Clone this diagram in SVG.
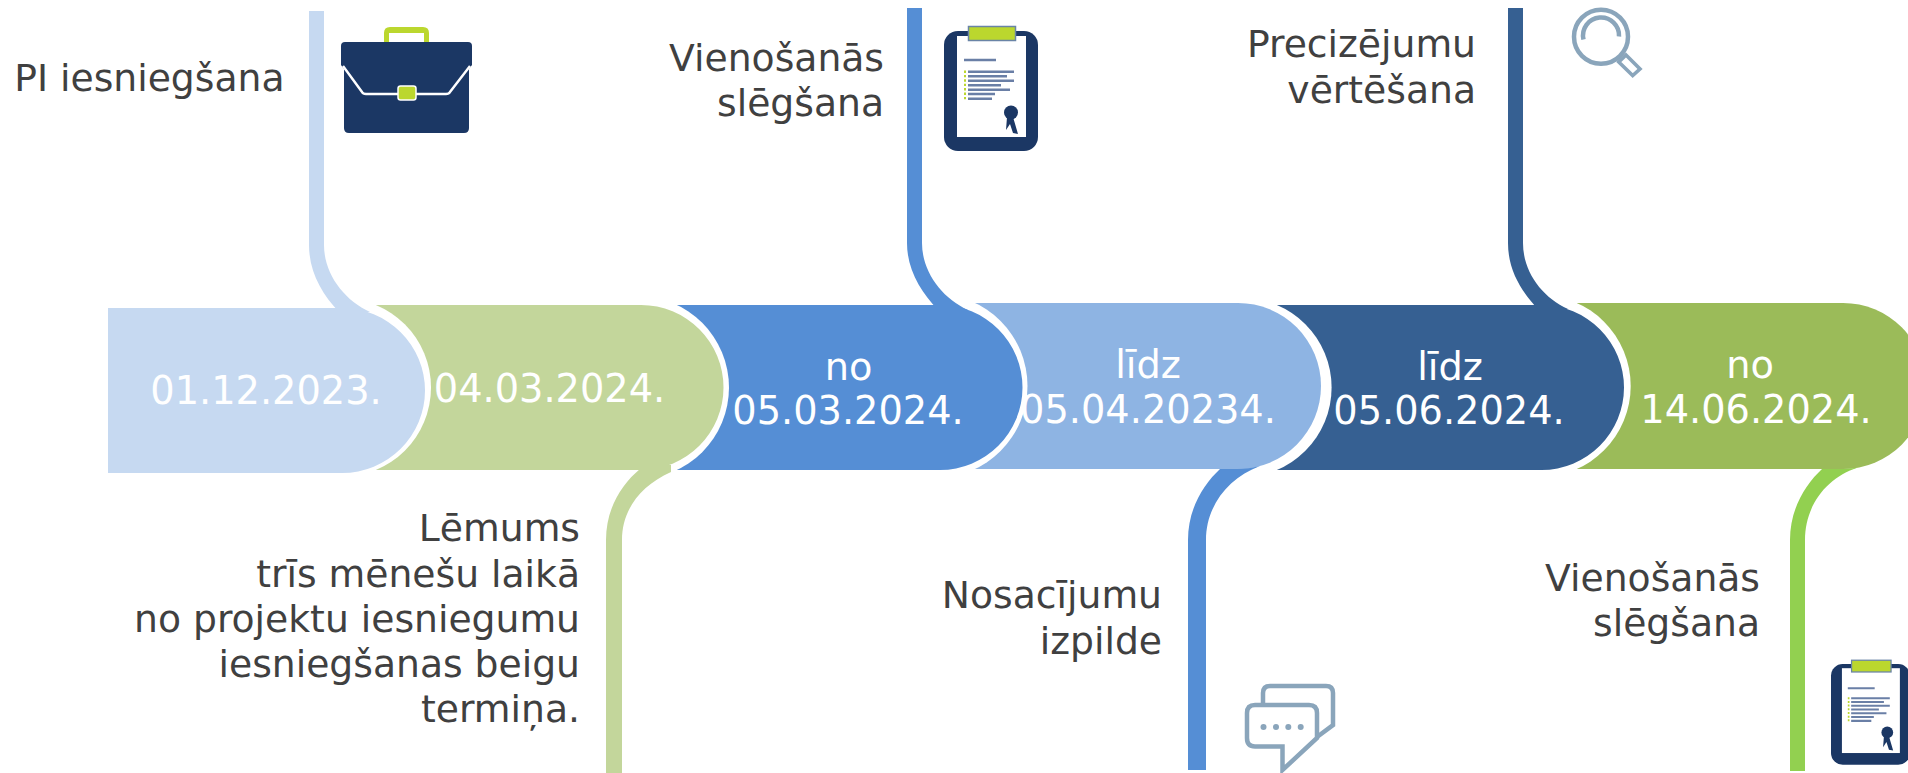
<svg xmlns="http://www.w3.org/2000/svg" width="1908" height="773" viewBox="0 0 1908 773">
<style>
text{font-family:"DejaVu Sans","Liberation Sans",sans-serif}
.d{fill:#fff;text-anchor:middle;font-size:38.3px}
.l{fill:#404040;text-anchor:end;font-size:37.7px}
.gap{fill:#fff}
.navy{fill:#1B3764}
.lime{fill:#BBD72E}
.ln{stroke:#6A7FA6;stroke-width:2.4;fill:none}
.bu{stroke:#BBD72E;stroke-width:2;stroke-dasharray:2.4 2;fill:none}
.ic{fill:none;stroke:#8AA5BB;stroke-width:4.5}
</style>
<defs>
<g id="clipboard">
<rect class="navy" x="944" y="31" width="94" height="120" rx="14"/>
<rect x="957" y="36" width="69" height="101" fill="#fff"/>
<rect class="lime" x="968.5" y="26.5" width="47" height="14" stroke="#6A84A6" stroke-width="1.5"/>
<path class="ln" d="M964,60H996M968,71.7H1014M968,76.3H1007M968,80.7H1014M968,85.3H1001M968,89.7H1010M968,94H995M968,98.7H992"/>
<path class="bu" d="M965,70.5V100"/>
<circle class="navy" cx="1011" cy="112.5" r="7"/>
<path class="navy" d="M1007,117L1006,130L1010,124L1013,133L1018,134L1013,117Z"/>
</g>
</defs>

<g id="node-6">
<path fill="#9BBB59" d="M1577,303H1843A83,83 0 0 1 1843,469H1577Z"/>
<text class="d" x="1750" y="378">no</text>
<text class="d" x="1756" y="423">14.06.2024.</text>
</g>
<g id="node-5">
<circle class="gap" cx="1539.7" cy="386" r="91"/>
<path fill="#366092" d="M1277,305H1541.5A82.5,82.5 0 0 1 1541.5,470H1277Z"/>
<text class="d" x="1450" y="380">līdz</text>
<text class="d" x="1449" y="424">05.06.2024.</text>
</g>
<g id="node-4">
<circle class="gap" cx="1242" cy="387.5" r="89.6"/>
<path fill="#8EB4E3" d="M975,303H1238A83,83 0 0 1 1238,469H975Z"/>
<text class="d" x="1148" y="378">līdz</text>
<text class="d" x="1148" y="423">05.04.20234.</text>
</g>
<g id="node-3">
<circle class="gap" cx="935.6" cy="386" r="91.9"/>
<path fill="#558ED5" d="M677,305H940A82.5,82.5 0 0 1 940,470H677Z"/>
<text class="d" x="848.5" y="380">no</text>
<text class="d" x="848" y="424">05.03.2024.</text>
</g>
<g id="node-2">
<circle class="gap" cx="637.6" cy="387.5" r="91.4"/>
<path fill="#C3D69B" d="M376,305H641A82.5,82.5 0 0 1 641,470H376Z"/>
<text class="d" x="549.5" y="402">04.03.2024.</text>
</g>
<g id="node-1">
<circle class="gap" cx="341.6" cy="387.5" r="89.4"/>
<path fill="#C6D9F1" d="M108,308H342A83,82.5 0 0 1 342,473H108Z"/>
<text class="d" x="266" y="404">01.12.2023.</text>
</g>

<g id="connectors">
<path fill="#C6D9F1" d="M309,11H324V245C324,274 344,300 370,312L339,312C322,294 309,272 309,245Z"/>
<path fill="#558ED5" d="M907,8H922V243C922,272 942,298 968,310L938,310C921,292 907,270 907,243Z"/>
<path fill="#366092" d="M1508,8H1523V243C1523,272 1542,297 1568,309L1538,309C1521,291 1508,270 1508,243Z"/>
<path fill="#C3D69B" d="M606,773V540C606,508 622,484 640,469L640,465H671V472C640,486 622,510 622,540V773Z"/>
<path fill="#558ED5" d="M1188,770V540C1188,508 1204,484 1220,469H1238A83,83 0 0 0 1260,466C1228,478 1206,506 1206,540V770Z"/>
<path fill="#92D050" d="M1790,771V540C1790,508 1806,484 1822,469H1843A83,83 0 0 0 1858,467.6C1826,478 1805,506 1805,540V771Z"/>
</g>

<g id="label-pi"><text class="l" x="284.5" y="91">PI iesniegšana</text></g>
<g id="label-vienosanas-1"><text class="l" x="884" y="71">Vienošanās</text><text class="l" x="884" y="115.5">slēgšana</text></g>
<g id="label-precizejumu"><text class="l" x="1476" y="57">Precizējumu</text><text class="l" x="1476" y="103">vērtēšana</text></g>
<g id="label-lemums">
<text class="l" x="580" y="541">Lēmums</text>
<text class="l" x="580" y="587">trīs mēnešu laikā</text>
<text class="l" x="580" y="632">no projektu iesniegumu</text>
<text class="l" x="580" y="677">iesniegšanas beigu</text>
<text class="l" x="580" y="722">termiņa.</text>
</g>
<g id="label-nosacijumu"><text class="l" x="1162" y="608">Nosacījumu</text><text class="l" x="1162" y="654">izpilde</text></g>
<g id="label-vienosanas-2"><text class="l" x="1760" y="591">Vienošanās</text><text class="l" x="1760" y="636">slēgšana</text></g>

<g id="icon-briefcase">
<path class="lime" d="M384,43V33Q384,27 390,27H423Q429,27 429,33V43H424V33H389V43Z"/>
<path class="navy" d="M344,65H469V128Q469,133 464,133H349Q344,133 344,128Z"/>
<path class="navy" d="M341,46Q341,42 345,42H468Q472,42 472,46V65L449,94H363L341,65Z"/>
<path d="M343,66L362,92Q363,94 366,94H446Q449,94 450,92L470,66" fill="none" stroke="#fff" stroke-width="2.4"/>
<rect class="lime" x="398" y="86" width="18" height="14" rx="2.5" stroke="#fff" stroke-width="1.5"/>
</g>
<g id="icon-clipboard-1"><use href="#clipboard"/></g>
<g id="icon-clipboard-2"><use href="#clipboard" transform="translate(1831,664) scale(.84) translate(-944,-31)"/></g>
<g id="icon-magnifier">
<circle class="ic" cx="1601" cy="36.7" r="27"/>
<path class="ic" d="M1583.5,39.5A18,18 0 1 1 1619,36.5"/>
<path class="ic" stroke-width="3.6" style="stroke-width:3.6" d="M1626,55L1640,69L1632.7,75.5L1618.8,62Z"/>
</g>
<g id="icon-chat">
<path class="ic" d="M1263,704V693Q1263,686 1270,686H1326Q1333,686 1333,693V725L1317,737"/>
<path class="ic" d="M1255,705H1309Q1317,705 1317,713V738L1282.5,770V746.5H1255Q1247,746.5 1247,738V713Q1247,705 1255,705Z"/>
<g fill="#8AA5BB"><circle cx="1263.5" cy="727" r="3"/><circle cx="1276" cy="727" r="3"/><circle cx="1288.3" cy="727" r="3"/><circle cx="1300.7" cy="727" r="3"/></g>
</g>
</svg>
